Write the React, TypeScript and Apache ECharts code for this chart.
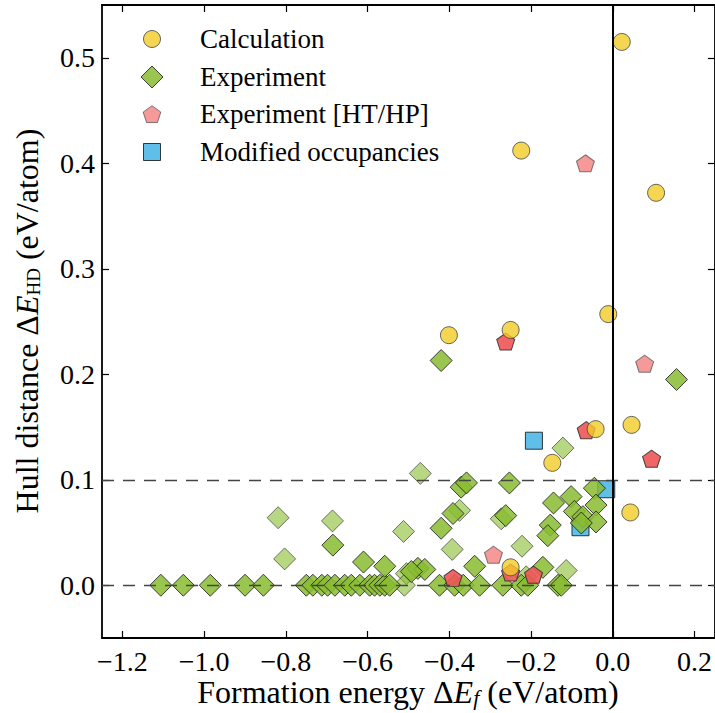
import React, { useEffect, useRef } from 'react';
import * as echarts from 'echarts';

const xTicks = [-1.2, -1.0, -0.8, -0.6, -0.4, -0.2, 0.0, 0.2];
const yTicks = [0.0, 0.1, 0.2, 0.3, 0.4, 0.5];
const referenceLevels = [0.0, 0.1];
const zeroFormation = 0.0;
const seriesNames = ['Calculation', 'Experiment', 'Experiment [HT/HP]', 'Modified occupancies'];

const calculation = [
  [0.022, 0.515], [-0.224, 0.412], [0.106, 0.372], [-0.011, 0.257], [-0.401, 0.237],
  [-0.250, 0.242], [-0.042, 0.148], [0.046, 0.152], [-0.148, 0.116], [0.043, 0.069],
  [-0.250, 0.017],
];

const experiment = [
  [-1.106, 0], [-1.051, 0], [-0.985, 0], [-0.900, 0], [-0.855, 0], [-0.750, 0], [-0.734, 0],
  [-0.712, 0], [-0.698, 0], [-0.680, 0], [-0.656, 0], [-0.640, 0], [-0.619, 0], [-0.595, 0],
  [-0.583, 0], [-0.570, 0], [-0.558, 0], [-0.546, 0], [-0.424, 0], [-0.387, 0], [-0.366, 0],
  [-0.326, 0], [-0.269, 0], [-0.224, 0], [-0.208, 0], [-0.134, 0], [-0.126, 0],
  [-0.685, 0.038], [-0.610, 0.022], [-0.558, 0.018], [-0.477, 0.016], [-0.460, 0.015],
  [-0.493, 0.013], [-0.420, 0.213], [0.156, 0.195], [-0.371, 0.093], [-0.358, 0.097],
  [-0.253, 0.097], [-0.045, 0.092], [-0.145, 0.078], [-0.102, 0.084], [-0.391, 0.068],
  [-0.420, 0.054], [-0.262, 0.066], [-0.153, 0.057], [-0.159, 0.047], [-0.094, 0.070],
  [-0.073, 0.065], [-0.041, 0.076], [-0.041, 0.060], [-0.077, 0.059], [-0.338, 0.018],
  [-0.171, 0.017],
];

const experimentFaded = [
  [-0.819, 0.064], [-0.803, 0.025], [-0.686, 0.061], [-0.512, 0.051], [-0.505, 0.011],
  [-0.510, 0], [-0.471, 0.106], [-0.375, 0.071], [-0.393, 0.034], [-0.273, 0.063],
  [-0.222, 0.037], [-0.122, 0.130], [-0.114, 0.014], [-0.212, 0.008],
];

const experimentHT = [
  [-0.262, 0.231], [-0.065, 0.147], [0.095, 0.120], [-0.391, 0.007], [-0.194, 0.010], [-0.250, 0.012],
];

const experimentHTFaded = [
  [-0.067, 0.400], [0.078, 0.210], [-0.292, 0.029],
];

const modifiedOccupancies = [
  [-0.193, 0.137], [-0.016, 0.091], [-0.079, 0.055],
];

const FONT = 'Liberation Serif';
const PENTAGON = 'path://M0,-10 L9.511,-3.09 L5.878,8.09 L-5.878,8.09 L-9.511,-3.09 Z';

const fmt = (v: number) => {
  const s = (Math.abs(v) < 1e-9 ? 0 : v).toFixed(1);
  return s.replace('-', '\u2212');
};

function pentagonPoints(cx: number, cy: number, r: number) {
  const pts: number[][] = [];
  for (let i = 0; i < 5; i++) {
    const a = -Math.PI / 2 + (i * 2 * Math.PI) / 5;
    pts.push([cx + r * Math.cos(a), cy + r * Math.sin(a) + 1]);
  }
  return pts;
}

export default function App() {
  const ref = useRef<HTMLDivElement>(null);
  useEffect(() => {
    if (!ref.current) return;
    const chart = echarts.init(ref.current, undefined, { renderer: 'svg' });

    const axisCommon = {
      type: 'value' as const,
      axisLine: { show: true, onZero: false, lineStyle: { color: '#000', width: 1.8 } },
      splitLine: { show: false },
    };

    const legendRows = [39, 77, 114, 152];
    const lx = 152;
    const legendGraphics: any[] = [
      {
        type: 'circle', shape: { cx: lx, cy: legendRows[0], r: 8.5 },
        style: { fill: '#f2cc28', stroke: '#444', lineWidth: 1, opacity: 0.8 },
      },
      {
        type: 'polygon',
        shape: { points: [[lx - 11, legendRows[1]], [lx, legendRows[1] - 11], [lx + 11, legendRows[1]], [lx, legendRows[1] + 11]] },
        style: { fill: '#88bc30', stroke: '#222', lineWidth: 1, opacity: 0.85 },
      },
      {
        type: 'polygon', shape: { points: pentagonPoints(lx, legendRows[2], 9.3) },
        style: { fill: '#ee5555', stroke: '#333', lineWidth: 1, opacity: 0.6 },
      },
      {
        type: 'rect', shape: { x: lx - 8.5, y: legendRows[3] - 8.5, width: 17, height: 17 },
        style: { fill: '#4fb8e6', stroke: '#222', lineWidth: 1, opacity: 0.9 },
      },
      ...seriesNames.map((n, i) => ({
        type: 'text', x: 200, y: legendRows[i],
        style: { text: n, fontFamily: FONT, fontSize: 27, fill: '#000', align: 'left', verticalAlign: 'middle' },
      })),
    ];

    const titleRich = {
      n: { fontFamily: FONT, fontSize: 32, lineHeight: 32, fill: '#000' },
      i: { fontFamily: FONT, fontSize: 32, lineHeight: 32, fontStyle: 'italic', fill: '#000' },
      si: { fontFamily: FONT, fontSize: 22, lineHeight: 13, fontStyle: 'italic', verticalAlign: 'bottom', fill: '#000' },
      s: { fontFamily: FONT, fontSize: 19, lineHeight: 13, verticalAlign: 'bottom', fill: '#000' },
    };

    chart.setOption({
      animation: false,
      backgroundColor: '#fff',
      grid: { left: 102, top: 5, width: 613.5, height: 633 },
      xAxis: [
        {
          ...axisCommon, position: 'bottom', min: -1.25, max: 0.25,
          axisTick: { show: true, inside: true, length: 7, customValues: xTicks, lineStyle: { color: '#000', width: 1.2 } },
          axisLabel: { show: true, customValues: xTicks, formatter: fmt, margin: 9, fontFamily: FONT, fontSize: 28, color: '#000' },
        },
        {
          ...axisCommon, position: 'top', min: -1.25, max: 0.25,
          axisTick: { show: true, inside: true, length: 7, customValues: xTicks, lineStyle: { color: '#000', width: 1.2 } },
          axisLabel: { show: false },
        },
      ],
      yAxis: [
        {
          ...axisCommon, position: 'left', min: -0.05, max: 0.55,
          axisTick: { show: true, inside: true, length: 7, customValues: yTicks, lineStyle: { color: '#000', width: 1.2 } },
          axisLabel: { show: true, customValues: yTicks, formatter: fmt, margin: 7, fontFamily: FONT, fontSize: 28, color: '#000' },
        },
        {
          ...axisCommon, position: 'right', min: -0.05, max: 0.55,
          axisTick: { show: true, inside: true, length: 7, customValues: yTicks, lineStyle: { color: '#000', width: 1.2 } },
          axisLabel: { show: false },
        },
      ],
      series: [
        {
          name: seriesNames[3], type: 'scatter', symbol: 'rect', symbolSize: 17, data: modifiedOccupancies,
          itemStyle: { color: '#4fb8e6', borderColor: '#222', borderWidth: 1, opacity: 0.9 },
        },
        {
          name: seriesNames[1], type: 'scatter', symbol: 'diamond', symbolSize: 22, data: experimentFaded,
          itemStyle: { color: '#88bc30', borderColor: '#222', borderWidth: 1, opacity: 0.6 },
        },
        {
          name: seriesNames[1], type: 'scatter', symbol: 'diamond', symbolSize: 22, data: experiment,
          itemStyle: { color: '#88bc30', borderColor: '#222', borderWidth: 1, opacity: 0.85 },
        },
        {
          name: seriesNames[2], type: 'scatter', symbol: PENTAGON, symbolSize: [18, 17], data: experimentHTFaded,
          itemStyle: { color: '#ee5555', borderColor: '#333', borderWidth: 1, opacity: 0.6 },
        },
        {
          name: seriesNames[2], type: 'scatter', symbol: PENTAGON, symbolSize: [18, 17], data: experimentHT,
          itemStyle: { color: '#ee5555', borderColor: '#333', borderWidth: 1, opacity: 0.9 },
        },
        {
          name: seriesNames[0], type: 'scatter', symbol: 'circle', symbolSize: 17, data: calculation,
          itemStyle: { color: '#f2cc28', borderColor: '#444', borderWidth: 1, opacity: 0.8 },
          markLine: {
            silent: true, symbol: 'none', label: { show: false }, animation: false,
            data: [
              ...referenceLevels.map((v) => ({ yAxis: v, lineStyle: { type: [12, 9], color: '#444', width: 1.3 } })),
              { xAxis: zeroFormation, lineStyle: { type: 'solid', color: '#000', width: 2 } },
            ],
          },
        },
      ],
      graphic: [
        ...legendGraphics,
        {
          type: 'text', x: 408, y: 692,
          style: {
            text: '{n|Formation energy \u0394}{i|E}{si|f}{n| (eV/atom)}', rich: titleRich,
            align: 'center', verticalAlign: 'middle',
          },
        },
        {
          type: 'text', x: 27, y: 321, rotation: Math.PI / 2,
          style: {
            text: '{n|Hull distance \u0394}{i|E}{s|HD}{n| (eV/atom)}', rich: titleRich,
            align: 'center', verticalAlign: 'middle',
          },
        },
      ],
    });
    return () => chart.dispose();
  }, []);

  return (
    <div
      ref={ref}
      style={{ position: 'absolute', left: 0, top: 0, width: 715, height: 713, background: '#fff' }}
    />
  );
}
